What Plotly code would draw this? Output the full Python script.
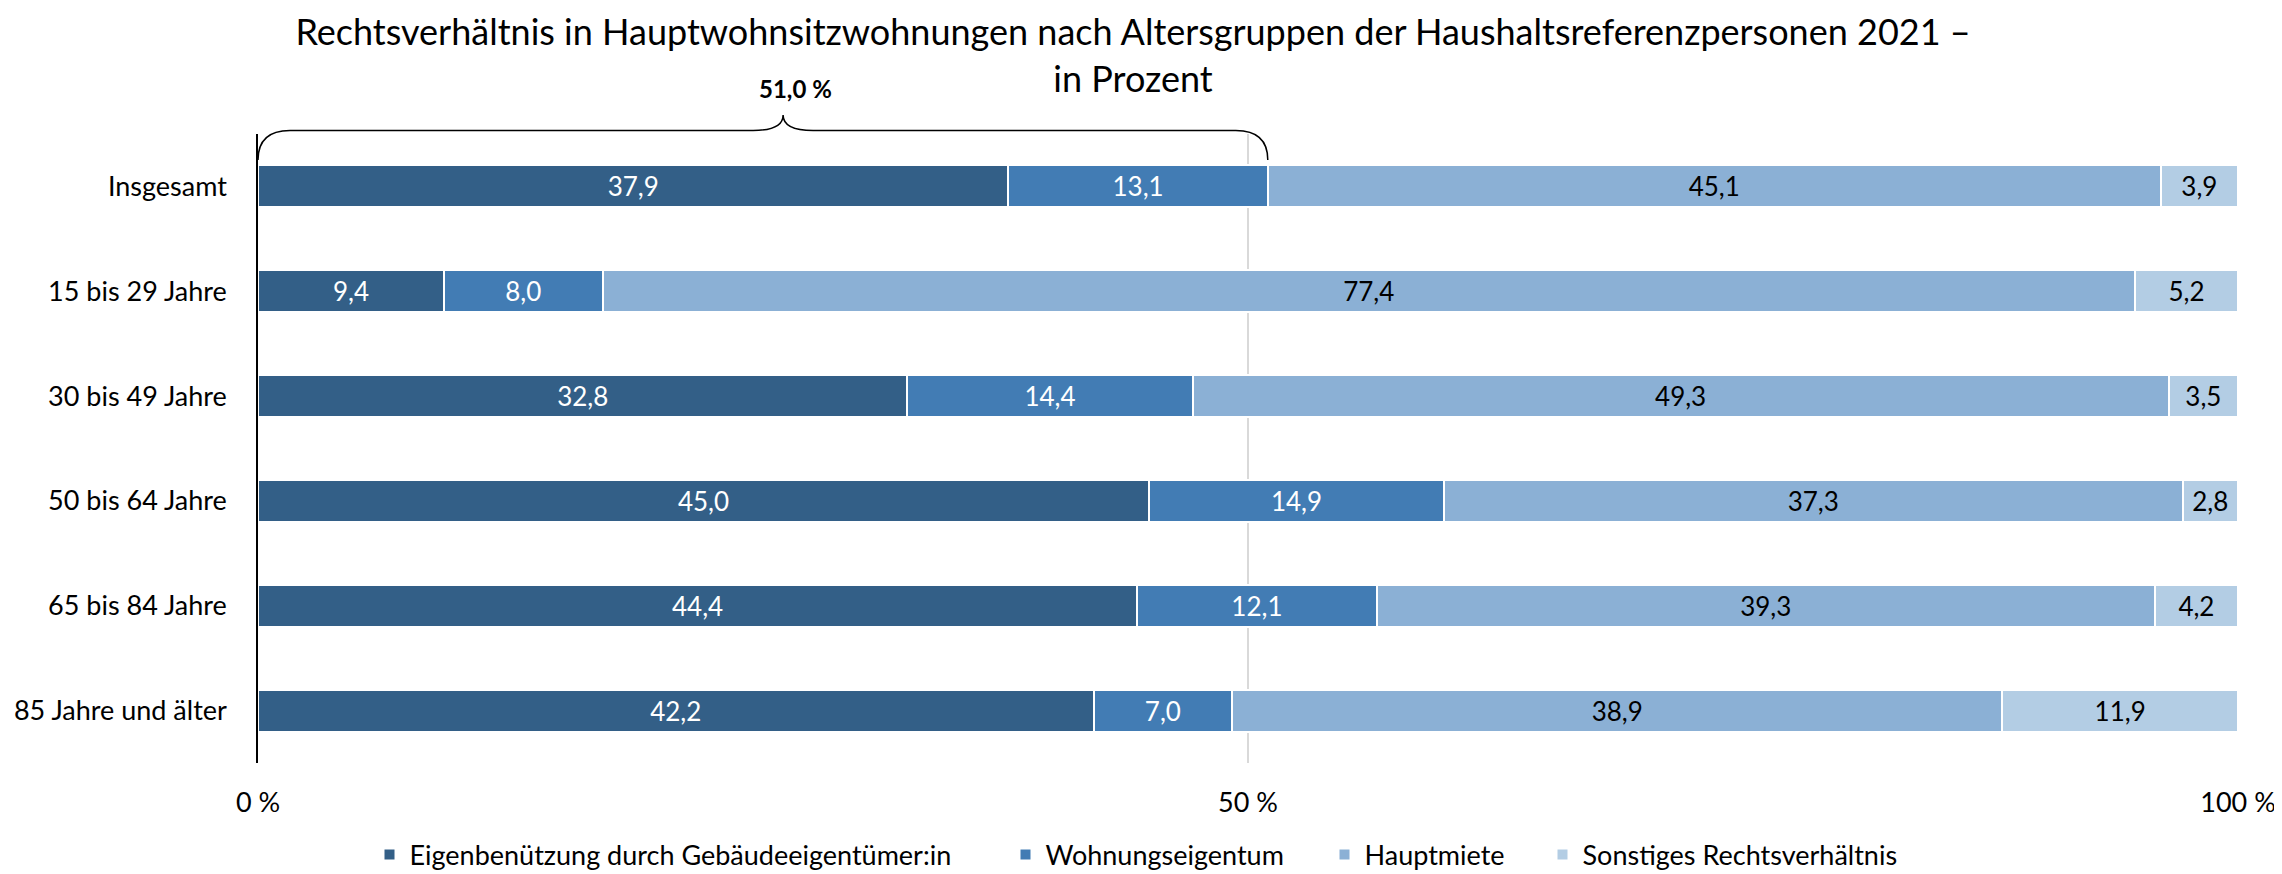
import plotly.graph_objects as go

categories = ["Insgesamt", "15 bis 29 Jahre", "30 bis 49 Jahre", "50 bis 64 Jahre",
              "65 bis 84 Jahre", "85 Jahre und älter"]
series_names = ["Eigenbenützung durch Gebäudeeigentümer:in", "Wohnungseigentum",
                "Hauptmiete", "Sonstiges Rechtsverhältnis"]
eigen = [37.9, 9.4, 32.8, 45.0, 44.4, 42.2]
wohnungseigentum = [13.1, 8.0, 14.4, 14.9, 12.1, 7.0]
hauptmiete = [45.1, 77.4, 49.3, 37.3, 39.3, 38.9]
sonstiges = [3.9, 5.2, 3.5, 2.8, 4.2, 11.9]
tick_vals = [0, 50, 100]
tick_text = ["0 %", "50 %", "100 %"]
title_text = ("Rechtsverhältnis in Hauptwohnsitzwohnungen nach Altersgruppen der "
              "Haushaltsreferenzpersonen 2021 –<br>in Prozent")

colors = ["#335F87", "#427CB4", "#8BB0D5", "#B3CDE4"]
text_colors = ["white", "white", "black", "black"]
FONT = "Lato, Liberation Sans, Arial, sans-serif"

# the page body adds an 8 px margin around the figure
OFF = 8
W, H = 2282 - OFF, 874 - OFF
ML, MR, MT, MB = 258 - OFF, 44, 134 - OFF, 111
PW, PH = W - ML - MR, H - MT - MB

legend_ids = ["legend", "legend2", "legend3", "legend4"]
legend_symbol_left_page = [389, 1025, 1344, 1562]

fig = go.Figure()
for name, vals, c, tc, lid in zip(series_names,
                                  [eigen, wohnungseigentum, hauptmiete, sonstiges],
                                  colors, text_colors, legend_ids):
    fig.add_trace(go.Bar(
        y=categories, x=vals, name=name, orientation="h",
        marker=dict(color=c, line=dict(color="white", width=2)),
        texttemplate="%{x:.1f}", textposition="inside", insidetextanchor="middle",
        textfont=dict(family=FONT, size=26, color=tc),
        constraintext="none", hoverinfo="skip", legend=lid, showlegend=True,
    ))

# brace over the first category: owners (Eigenbenützung + Wohnungseigentum)
owner_share = eigen[0] + wohnungseigentum[0]
def px_x(px):
    return px / PW
def px_y(py_from_top):
    return 1 - py_from_top / PH

x0 = 0.0
x1 = owner_share / 100.0
xm = x0 + 0.52 * (x1 - x0)
rx, tx = px_x(32), px_x(30)
yb, yl, yt = px_y(26), px_y(-3.5), px_y(-19)
path = (f"M {x0},{yb} Q {x0},{yl} {x0 + rx},{yl} L {xm - tx},{yl} "
        f"Q {xm},{yl} {xm},{yt} Q {xm},{yl} {xm + tx},{yl} "
        f"L {x1 - rx},{yl} Q {x1},{yl} {x1},{yb}")
fig.add_shape(type="path", path=path, xref="paper", yref="paper",
              line=dict(color="black", width=1.5), layer="above")
fig.add_annotation(x=xm, y=px_y(-46), xref="paper", yref="paper",
                   xanchor="center", yanchor="middle",
                   text="<b>" + f"{owner_share:.1f}".replace(".", ",") + " %</b>",
                   showarrow=False, xshift=12,
                   font=dict(family=FONT, size=24, color="black"))

layout_legends = {}
for lid, lx in zip(legend_ids, legend_symbol_left_page):
    layout_legends[lid] = dict(
        orientation="h", xref="container", yref="container",
        x=(lx - 19.5 - OFF) / W, xanchor="left",
        y=1 - (855 - OFF) / H, yanchor="middle", bgcolor="rgba(0,0,0,0)",
        font=dict(family=FONT, size=27, color="black"))

fig.update_layout(
    width=W, height=H,
    margin=dict(l=ML, r=MR, t=MT, b=MB, autoexpand=False),
    barmode="stack", bargap=0.6,
    separators=",.",
    paper_bgcolor="white", plot_bgcolor="white",
    font=dict(family=FONT, size=27, color="black"),
    title=dict(text=title_text, x=(1133 - OFF) / W, xanchor="center", xref="container",
               y=1 - 37 / H, yanchor="middle", yref="container",
               font=dict(family=FONT, size=36, color="black")),
    xaxis=dict(range=[0, 100], tickvals=tick_vals, ticktext=tick_text,
               showgrid=True, gridcolor="#D9D9D9", gridwidth=1.5,
               zeroline=False, showline=False, ticks="outside", ticklen=16,
               tickcolor="rgba(0,0,0,0)", tickfont=dict(family=FONT, size=27)),
    yaxis=dict(categoryorder="array", categoryarray=categories, autorange="reversed",
               showline=True, linecolor="black", linewidth=1.5, showgrid=False,
               ticks="outside", ticklen=24, tickcolor="rgba(0,0,0,0)",
               tickfont=dict(family=FONT, size=27)),
    **layout_legends,
)

fig.write_html("out.html")
